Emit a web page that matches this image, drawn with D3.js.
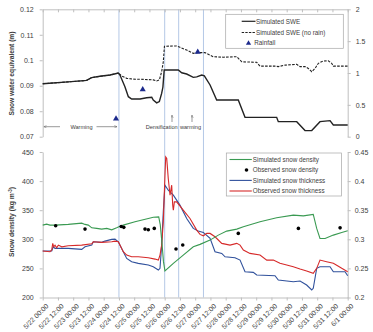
<!DOCTYPE html>
<html><head><meta charset="utf-8">
<script src="https://cdn.jsdelivr.net/npm/d3@7"></script>
<style>
body{margin:0;background:#fff}
svg{display:block;background:#fff}
text{font-family:"Liberation Sans",Arial,sans-serif;fill:#404040}
</style>
</head><body><svg id="c" width="373" height="332"></svg>
<script>
// ---------- DATA (x = hours since 5/22 00:00) ----------
const xTickHours = [0,12,24,36,48,60,72,84,96,108,120,132,144,156,168,180,192,204,216,228,240];
const xTickLabels = ["5/22 00:00","5/22 12:00","5/23 00:00","5/23 12:00","5/24 00:00","5/24 12:00",
  "5/25 00:00","5/25 12:00","5/26 00:00","5/26 12:00","5/27 00:00","5/27 12:00","5/28 00:00",
  "5/28 12:00","5/29 00:00","5/29 12:00","5/30 00:00","5/30 12:00","5/31 00:00","5/31 12:00","6/1 00:00"];
const eventHours = [60, 96, 107, 126.5];

const sweTicks = [0.07,0.08,0.09,0.10,0.11,0.12];
const rainTicks = [0,0.5,1,1.5,2];
const densTicks = [200,250,300,350,400,450];
const thickTicks = [0.2,0.25,0.3,0.35,0.4,0.45];

const sweSim = [[0,0.0908],[20,0.0915],[30,0.0919],[34.5,0.0921],[38.5,0.0932],[45,0.0937],[53,0.0942],[59.5,0.0950],
  [60.8,0.0942],[64.7,0.0896],[67.4,0.0857],[70,0.0848],[76.6,0.0848],[81.8,0.0853],[85.8,0.0855],[87,0.0844],
  [89.7,0.0833],[91.8,0.0838],[93.6,0.0870],[94.6,0.0895],[95.6,0.0962],[106.7,0.0962],[109.4,0.0951],[113.3,0.0946],
  [118.5,0.0933],[121.2,0.0935],[125.1,0.0942],[127.2,0.0939],[131.7,0.0903],[136.9,0.0844],[153.9,0.0844],
  [159.2,0.0776],[184.1,0.0776],[185.4,0.0759],[199.9,0.0759],[206.4,0.0724],[211.7,0.0724],[218.2,0.0759],
  [226.1,0.0763],[228.7,0.0746],[240,0.0746]];
const sweNoRain = [[0,0.0908],[20,0.0915],[30,0.0919],[34.5,0.0921],[38.5,0.0932],[45,0.0937],[53,0.0942],[59.5,0.0950],
  [62.2,0.0938],[66.1,0.0929],[71.3,0.0926],[79.2,0.0925],[87,0.0923],[89.7,0.0919],[91.8,0.0923],[93.6,0.0955],
  [94.9,0.0994],[95.8,0.1055],[105.4,0.1056],[108,0.1051],[113.3,0.1040],[118.5,0.1027],[122,0.1030],[127.7,0.1030],
  [134.2,0.1014],[142.1,0.1012],[152.7,0.1014],[156.6,0.0994],[168.4,0.0992],[171,0.0977],[182.8,0.0977],
  [185.4,0.0975],[190.7,0.0981],[199.9,0.0984],[202.5,0.0975],[206.4,0.0975],[209,0.0968],[211.7,0.0955],
  [214.3,0.0968],[216.9,0.0988],[220.8,0.0997],[224.7,0.0998],[227.4,0.0988],[228.7,0.0977],[240,0.0977]];
const rainHours = [57.7, 78.7, 122];
const rainValues = [0.28, 0.74, 1.33];

const densSim = [[0,324.4],[3.1,326],[5.7,324.4],[9.7,324.4],[20.1,325.6],[30.7,327.8],[33.3,325.6],[35.9,324.4],
  [38.6,319.7],[42.5,318.7],[46.4,317.5],[50.4,318.7],[54.3,316.3],[58.2,319.7],[59.5,321],[63.4,324.4],[72.6,330],
  [83.1,335.8],[87,338],[91.3,338.6],[92.5,325],[94,290],[95,262],[96.2,245.5],[102.8,258.7],[110.6,272.9],
  [118.5,287.1],[123.8,291.3],[131.7,298.6],[138.2,307.2],[144.8,314.1],[152.7,317.5],[157.9,321.4],[171,330],
  [184.1,336.9],[197.2,341.5],[205.1,340.3],[212.9,342.7],[215.6,318.7],[218.2,301.5],[222.2,301.5],[228.7,307.2],
  [235.3,311.8],[240,314.6]];
const densObsHours = [10.2,33.3,61.8,63.8,80.5,83.1,87.8,104.9,110.2,153.9,201.2,234];
const densObsValues = [323.2,317.5,322,320.5,317.5,316.3,318.7,283.3,290.1,310.1,318.7,319.7];

const thickSim = [[0,0.2798],[7.1,0.2798],[8.3,0.2871],[9.7,0.2844],[20.1,0.2844],[30.7,0.2827],[33.3,0.2871],
  [38.6,0.29],[39.8,0.2957],[46.4,0.2947],[49,0.2969],[54.3,0.2998],[56.9,0.3003],[59.5,0.2957],[63.4,0.2786],
  [66.1,0.2672],[70,0.2614],[75.2,0.2587],[83.1,0.2557],[87,0.2528],[91,0.2472],[92.3,0.2501],[93.6,0.29],
  [94.9,0.3472],[96.2,0.393],[98.8,0.3844],[102.8,0.3758],[108,0.3587],[113.3,0.3358],[118.5,0.3187],[122.4,0.3141],
  [126.4,0.3118],[131.7,0.3015],[135.6,0.2786],[140.9,0.2758],[143.5,0.27],[151.3,0.2683],[155.3,0.2643],
  [159.2,0.2443],[165.7,0.2432],[168.4,0.2386],[182.8,0.2374],[185.4,0.23],[197.2,0.2271],[202.5,0.2283],
  [207.7,0.2214],[211.7,0.2129],[212.9,0.2158],[215.6,0.2501],[218.2,0.2528],[226.1,0.2528],[228.7,0.2443],
  [237.9,0.2443],[240,0.2374]];
const thickObs = [[0,0.2798],[5.7,0.2786],[7.1,0.2815],[7.9,0.293],[8.7,0.2871],[9.7,0.29],[11,0.2854],[12.3,0.29],
  [15,0.2871],[20.1,0.2888],[30.7,0.29],[38.6,0.2923],[39.8,0.2957],[46.4,0.2947],[54.3,0.2957],[56.9,0.2969],
  [59.5,0.2957],[63.4,0.2786],[66.1,0.2729],[70,0.27],[75.2,0.27],[83.1,0.2683],[88.4,0.266],[91,0.2643],
  [92.3,0.2729],[93.6,0.29],[94.9,0.33],[96.2,0.4101],[96.8,0.4415],[97.6,0.4388],[98.8,0.4045],[100.2,0.3758],
  [101.5,0.393],[102.3,0.3587],[102.8,0.3501],[103.6,0.3643],[105.4,0.3643],[110.6,0.3501],[115.9,0.3358],
  [121.2,0.3158],[123.8,0.3084],[126.4,0.306],[129.1,0.3101],[131.7,0.3101],[135.6,0.3043],[140.9,0.293],
  [147.4,0.29],[152.7,0.293],[155.3,0.29],[157.9,0.2815],[163.1,0.2758],[171,0.2729],[176.3,0.2643],[181.5,0.2643],
  [186.7,0.2587],[192,0.2557],[197.2,0.2528],[202.5,0.2489],[207.7,0.2455],[212.9,0.2415],[215.6,0.2501],
  [218.2,0.2643],[223.4,0.2614],[228.7,0.2587],[235.3,0.2501],[240,0.2443]];

// ---------- LAYOUT ----------
const svg = d3.select("#c");
const L = 42.7, R = 347.7;
const topY0 = 9.3, topY1 = 136.7;
const botY0 = 152, botY1 = 297.5;
const axisCol = "#bfbfbf";
const cGreen = "#3a9a52", cBlue = "#30519c", cRed = "#d62a2a", cNavy = "#1c2a8c";

const x = d3.scaleLinear().domain([0,240]).range([L,R]);
const ySwe = d3.scaleLinear().domain([0.07,0.12]).range([topY1,topY0]);
const yRain = d3.scaleLinear().domain([0,2]).range([topY1,topY0]);
const yDen = d3.scaleLinear().domain([200,450]).range([botY1,botY0]);
const yThk = d3.scaleLinear().domain([0.2,0.45]).range([botY1,botY0]);

function styleAxis(g){
  g.select(".domain").attr("stroke",axisCol);
  g.selectAll(".tick line").attr("stroke",axisCol);
  g.selectAll("text").attr("font-size",7).attr("fill","#404040").attr("font-family",'"Liberation Sans",Arial,sans-serif');
}
const fmt = d => String(+d.toFixed(2));

// event vertical lines
svg.append("g").selectAll("line").data(eventHours).join("line")
  .attr("x1",d=>x(d)).attr("x2",d=>x(d)).attr("y1",topY0).attr("y2",botY1)
  .attr("stroke","#b4c8e6").attr("stroke-width",1);

// ---------- TOP CHART AXES ----------
svg.append("g").attr("transform",`translate(0,${topY0})`)
  .call(d3.axisBottom(x).tickValues(xTickHours).tickSize(3).tickSizeOuter(0).tickFormat(""))
  .call(styleAxis);
svg.append("g").attr("transform",`translate(${L},0)`)
  .call(d3.axisLeft(ySwe).tickValues(sweTicks).tickSize(3).tickSizeOuter(0).tickPadding(6).tickFormat(fmt))
  .call(styleAxis);
svg.append("g").attr("transform",`translate(${R},0)`)
  .call(d3.axisRight(yRain).tickValues(rainTicks).tickSize(3).tickSizeOuter(0).tickPadding(5).tickFormat(fmt))
  .call(styleAxis);

// ---------- BOTTOM CHART AXES ----------
const xb = svg.append("g").attr("transform",`translate(0,${botY1})`)
  .call(d3.axisBottom(x).tickValues(xTickHours).tickSize(3).tickSizeOuter(0).tickFormat((d,i)=>xTickLabels[i]))
  .call(styleAxis);
xb.selectAll(".tick text").attr("x",0).attr("y",0).attr("dy","0.35em")
  .attr("transform","translate(4,7.5) rotate(-45)").style("text-anchor","end").attr("font-size",6.8);
svg.append("g").attr("transform",`translate(${L},0)`)
  .call(d3.axisLeft(yDen).tickValues(densTicks).tickSize(3).tickSizeOuter(0).tickPadding(6))
  .call(styleAxis);
svg.append("g").attr("transform",`translate(${R},0)`)
  .call(d3.axisRight(yThk).tickValues(thickTicks).tickSize(3).tickSizeOuter(0).tickPadding(4).tickFormat(fmt))
  .call(styleAxis);

// axis titles
svg.append("text").attr("transform",`translate(11.5,73.5) rotate(-90)`).attr("text-anchor","middle")
  .attr("dy","0.35em").attr("font-size",6.8).attr("font-weight","bold")
  .attr("textLength",84).attr("lengthAdjust","spacingAndGlyphs").text("Snow water equivalent (m)");
const t2 = svg.append("text").attr("transform",`translate(11.5,222) rotate(-90)`).attr("text-anchor","middle")
  .attr("dy","0.35em").attr("font-size",6.8).attr("font-weight","bold");
t2.append("tspan").text("Snow density (kg m");
t2.append("tspan").attr("dy","-2.2").attr("font-size",4.5).text("-3");
t2.append("tspan").attr("dy","2.2").text(")");

// ---------- TOP CHART MARKS ----------
const lineSwe = d3.line().x(d=>x(d[0])).y(d=>ySwe(d[1]));
svg.append("path").datum(sweNoRain).attr("d",lineSwe).attr("fill","none")
  .attr("stroke","#222").attr("stroke-width",1.1).attr("stroke-dasharray","2.6,1.3");
svg.append("path").datum(sweSim).attr("d",lineSwe).attr("fill","none")
  .attr("stroke","#222").attr("stroke-width",1.4);
svg.append("g").selectAll("path").data(rainHours).join("path")
  .attr("d",d3.symbol(d3.symbolTriangle,16))
  .attr("transform",(d,i)=>`translate(${x(d)},${yRain(rainValues[i])})`)
  .attr("fill",cNavy);

// annotations
const annCol = "#555";
const defs = svg.append("defs");
defs.append("marker").attr("id","ah").attr("viewBox","0 0 6 6").attr("refX",5.5).attr("refY",3)
  .attr("markerWidth",5).attr("markerHeight",5).attr("orient","auto-start-reverse")
  .append("path").attr("d","M0,0.5 L5.5,3 L0,5.5").attr("fill","none").attr("stroke",annCol).attr("stroke-width",0.8);
const annY = 126.7;
svg.append("line").attr("x1",60).attr("x2",43.8).attr("y1",annY).attr("y2",annY)
  .attr("stroke",annCol).attr("stroke-width",0.6).attr("marker-end","url(#ah)");
svg.append("line").attr("x1",96.5).attr("x2",117).attr("y1",annY).attr("y2",annY)
  .attr("stroke",annCol).attr("stroke-width",0.6).attr("marker-end","url(#ah)");
svg.append("text").attr("x",81.5).attr("y",annY).attr("dy","0.35em").attr("text-anchor","middle")
  .attr("font-size",5.6).attr("fill",annCol).text("Warming");
svg.append("text").attr("x",161.7).attr("y",annY).attr("dy","0.35em").attr("text-anchor","middle")
  .attr("font-size",5.6).attr("fill",annCol).text("Densification");
svg.append("text").attr("x",190.5).attr("y",annY).attr("dy","0.35em").attr("text-anchor","middle")
  .attr("font-size",5.6).attr("fill",annCol).text("warming");
[172, 192].forEach(ax => {
  svg.append("line").attr("x1",ax).attr("x2",ax).attr("y1",122).attr("y2",115.2)
    .attr("stroke",annCol).attr("stroke-width",0.6).attr("marker-end","url(#ah)");
});

// ---------- BOTTOM CHART MARKS ----------
const lineDen = d3.line().x(d=>x(d[0])).y(d=>yDen(d[1]));
const lineThk = d3.line().x(d=>x(d[0])).y(d=>yThk(d[1]));
svg.append("path").datum(thickSim).attr("d",lineThk).attr("fill","none").attr("stroke",cBlue).attr("stroke-width",1.1);
svg.append("path").datum(thickObs).attr("d",lineThk).attr("fill","none").attr("stroke",cRed).attr("stroke-width",1.1);
svg.append("path").datum(densSim).attr("d",lineDen).attr("fill","none").attr("stroke",cGreen).attr("stroke-width",1.1);
svg.append("g").selectAll("circle").data(densObsHours).join("circle")
  .attr("cx",d=>x(d)).attr("cy",(d,i)=>yDen(densObsValues[i])).attr("r",1.8).attr("fill","#000");

// ---------- LEGENDS ----------
const legTop = svg.append("g");
legTop.append("rect").attr("x",225.7).attr("y",14.3).attr("width",117.6).attr("height",34)
  .attr("fill","#fff").attr("stroke","#a6a6a6").attr("stroke-width",0.7);
const topItems = ["Simulated SWE","Simulated SWE (no rain)","Rainfall"];
const topRows = [21.3,32.5,43.2];
legTop.append("line").attr("x1",241.7).attr("x2",255.5).attr("y1",topRows[0]).attr("y2",topRows[0])
  .attr("stroke","#222").attr("stroke-width",1.2);
legTop.append("line").attr("x1",241.7).attr("x2",255.5).attr("y1",topRows[1]).attr("y2",topRows[1])
  .attr("stroke","#222").attr("stroke-width",1).attr("stroke-dasharray","2.4,1.2");
legTop.append("path").attr("d",d3.symbol(d3.symbolTriangle,12)).attr("transform",`translate(248.5,${topRows[2]})`).attr("fill",cNavy);
legTop.selectAll("text.li").data(topItems).join("text").attr("class","li")
  .attr("x",(d,i)=>i===2?254.3:256).attr("y",(d,i)=>topRows[i]).attr("dy","0.35em")
  .attr("font-size",6.3).text(d=>d);

const legBot = svg.append("g");
legBot.append("rect").attr("x",226.3).attr("y",153).attr("width",115.3).attr("height",43)
  .attr("fill","#fff").attr("stroke","#a6a6a6").attr("stroke-width",0.7);
const botItems = ["Simulated snow density","Observed snow density","Simulated snow thickness","Observed snow thickness"];
const botRows = [159.5,170,180.4,191];
const botCols = [cGreen,null,cBlue,cRed];
botCols.forEach((c,i)=>{
  if(c) legBot.append("line").attr("x1",229.5).attr("x2",251.8).attr("y1",botRows[i]).attr("y2",botRows[i])
    .attr("stroke",c).attr("stroke-width",1.1);
  else legBot.append("circle").attr("cx",246.5).attr("cy",botRows[i]).attr("r",1.8).attr("fill","#000");
});
legBot.selectAll("text.li").data(botItems).join("text").attr("class","li")
  .attr("x",252.8).attr("y",(d,i)=>botRows[i]).attr("dy","0.35em").attr("font-size",6.3).text(d=>d);
</script>
</body></html>
